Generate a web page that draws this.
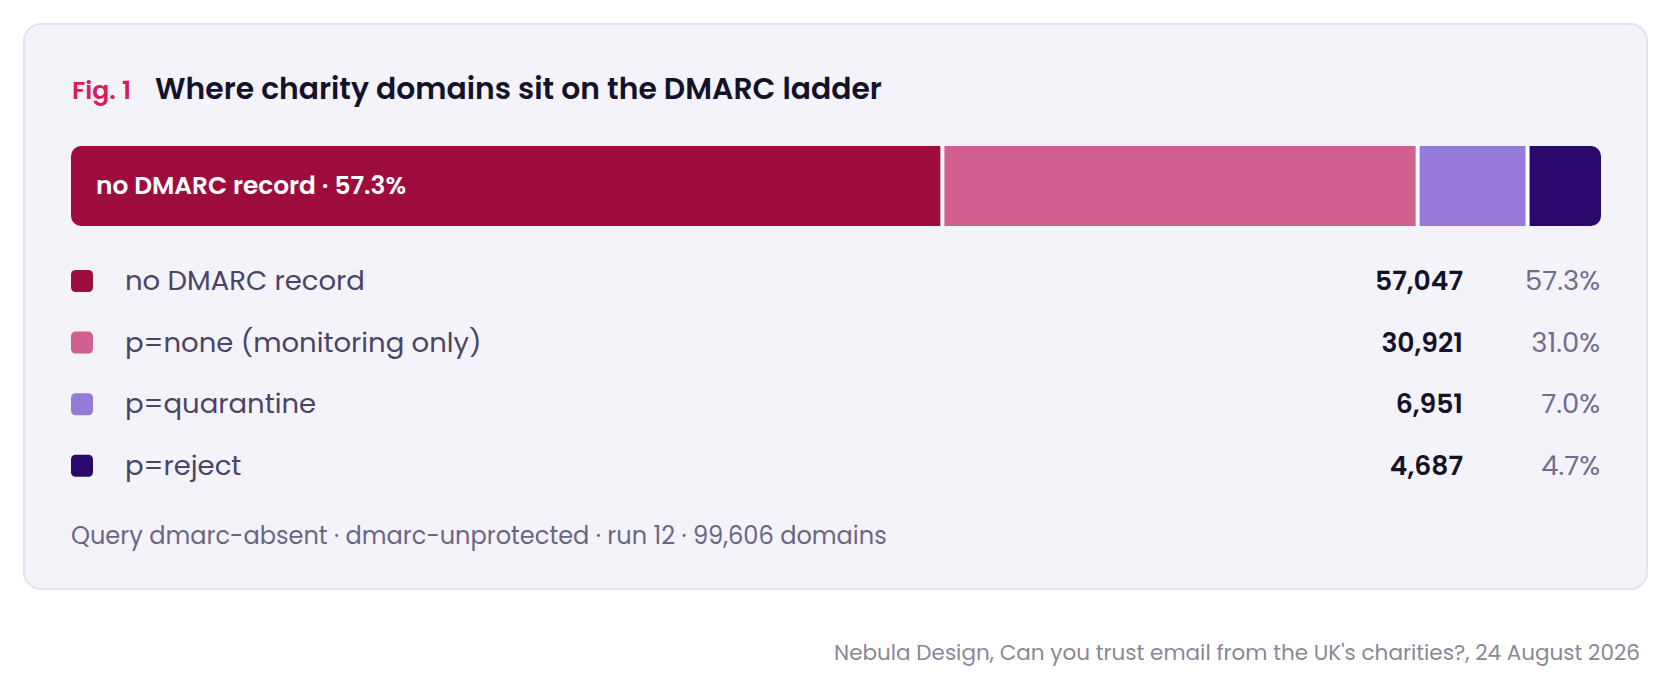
<!DOCTYPE html>
<html>
<head>
<meta charset="utf-8">
<script src="https://cdn.jsdelivr.net/npm/d3@7"></script>
<style>
  html, body { margin: 0; padding: 0; background: #fff; }
  svg text { font-family: Poppins, Inter, "Noto Sans", sans-serif; }
</style>
</head>
<body>
<div id="chart"></div>
<script>
const categories = ["no DMARC record", "p=none (monitoring only)", "p=quarantine", "p=reject"];
const counts = [57047, 30921, 6951, 4687];
const colors = ["#9e0c3e", "#d2608e", "#967ada", "#2a086c"];
const figLabel = "Fig. 1";
const title = "Where charity domains sit on the DMARC ladder";
const note = "Query dmarc-absent · dmarc-unprotected · run 12 · 99,606 domains";
const source = "Nebula Design, Can you trust email from the UK's charities?, 24 August 2026";

const w = 1672;
const h = 689;
const barLeft = 71;
const barRight = 1601;
const barTop = 146;
const barHeight = 80;
const gap = 4;
const rowStart = 281;
const rowStep = 61.6;

const total = d3.sum(counts);
const pct = d3.format(".1%");
const num = d3.format(",");

const data = categories.map(function (c, i) {
  return { name: c, count: counts[i], color: colors[i] };
});
let acc = 0;
data.forEach(function (d) {
  d.start = acc;
  acc += d.count;
});

// scale the usable width, gaps are taken out between segments
let x = d3
  .scaleLinear()
  .domain([0, total])
  .range([0, barRight - barLeft - gap * (data.length - 1)]);

let y = d3
  .scalePoint()
  .domain(categories)
  .range([rowStart, rowStart + rowStep * (categories.length - 1)]);

let svg = d3
  .select("#chart")
  .append("svg")
  .attr("width", w)
  .attr("height", h);

// shrink or grow a text so it spans the width
function fit(sel, target) {
  const node = sel.node();
  const size = parseFloat(sel.attr("font-size"));
  const len = node.getComputedTextLength();
  sel.attr("font-size", (size * target / len).toFixed(2));
  return sel;
}

svg
  .append("rect")
  .attr("x", 24)
  .attr("y", 24)
  .attr("width", 1623)
  .attr("height", 565)
  .attr("rx", 17)
  .attr("fill", "#f5f3fa")
  .attr("stroke", "#e4e2ee")
  .attr("stroke-width", 2);

fit(
  svg
    .append("text")
    .attr("x", 72)
    .attr("y", 99)
    .attr("font-size", 26)
    .attr("font-weight", 600)
    .attr("fill", "#d81b5a")
    .text(figLabel),
  59
);

fit(
  svg
    .append("text")
    .attr("x", 155)
    .attr("y", 99)
    .attr("font-size", 28)
    .attr("font-weight", 600)
    .attr("fill", "#14112b")
    .text(title),
  727
);

// the bar: rounded outline clips the square segments
svg
  .append("clipPath")
  .attr("id", "barClip")
  .append("rect")
  .attr("x", barLeft)
  .attr("y", barTop)
  .attr("width", barRight - barLeft)
  .attr("height", barHeight)
  .attr("rx", 10);

let bar = svg.append("g").attr("clip-path", "url(#barClip)");

bar
  .append("rect")
  .attr("x", barLeft)
  .attr("y", barTop)
  .attr("width", barRight - barLeft)
  .attr("height", barHeight)
  .attr("fill", "#ffffff");

bar
  .selectAll("rect.seg")
  .data(data)
  .enter()
  .append("rect")
  .attr("class", "seg")
  .attr("x", function (d, i) {
    return barLeft + x(d.start) + i * gap;
  })
  .attr("y", barTop)
  .attr("width", function (d) {
    return x(d.count);
  })
  .attr("height", barHeight)
  .attr("fill", function (d) {
    return d.color;
  });

fit(
  svg
    .append("text")
    .attr("x", 96)
    .attr("y", 194)
    .attr("font-size", 23)
    .attr("font-weight", 600)
    .attr("fill", "#ffffff")
    .text(data[0].name + " · " + pct(data[0].count / total)),
  310
);

// legend rows
let row = svg
  .append("g")
  .selectAll("g")
  .data(data)
  .enter()
  .append("g")
  .attr("transform", function (d) {
    return `translate(0,${y(d.name)})`;
  });

row
  .append("rect")
  .attr("x", 71)
  .attr("y", -11)
  .attr("width", 22)
  .attr("height", 22)
  .attr("rx", 4.5)
  .attr("fill", function (d) {
    return d.color;
  });

row
  .append("text")
  .attr("class", "name")
  .attr("x", 125)
  .attr("y", 9)
  .attr("font-size", 26)
  .attr("fill", "#4a4466")
  .text(function (d) {
    return d.name;
  });

row
  .append("text")
  .attr("class", "count")
  .attr("x", 1463)
  .attr("y", 9)
  .attr("text-anchor", "end")
  .attr("font-size", 26)
  .attr("font-weight", 600)
  .attr("fill", "#14112b")
  .text(function (d) {
    return num(d.count);
  });

row
  .append("text")
  .attr("class", "pct")
  .attr("x", 1600)
  .attr("y", 9)
  .attr("text-anchor", "end")
  .attr("font-size", 26)
  .attr("fill", "#726c8f")
  .text(function (d) {
    return pct(d.count / total);
  });

// one size for each legend column, taken from its first row
function fitColumn(cls, target) {
  const first = svg.select("text." + cls);
  const size = parseFloat(first.attr("font-size"));
  const k = target / first.node().getComputedTextLength();
  svg.selectAll("text." + cls).attr("font-size", (size * k).toFixed(2));
}
fitColumn("name", 240);
fitColumn("count", 88);
fitColumn("pct", 75);

fit(
  svg
    .append("text")
    .attr("x", 71)
    .attr("y", 544)
    .attr("font-size", 23)
    .attr("fill", "#6b6585")
    .text(note),
  816
);

fit(
  svg
    .append("text")
    .attr("x", 1640)
    .attr("y", 660)
    .attr("text-anchor", "end")
    .attr("font-size", 20)
    .attr("fill", "#8a8798")
    .text(source),
  806
);
</script>
</body>
</html>
